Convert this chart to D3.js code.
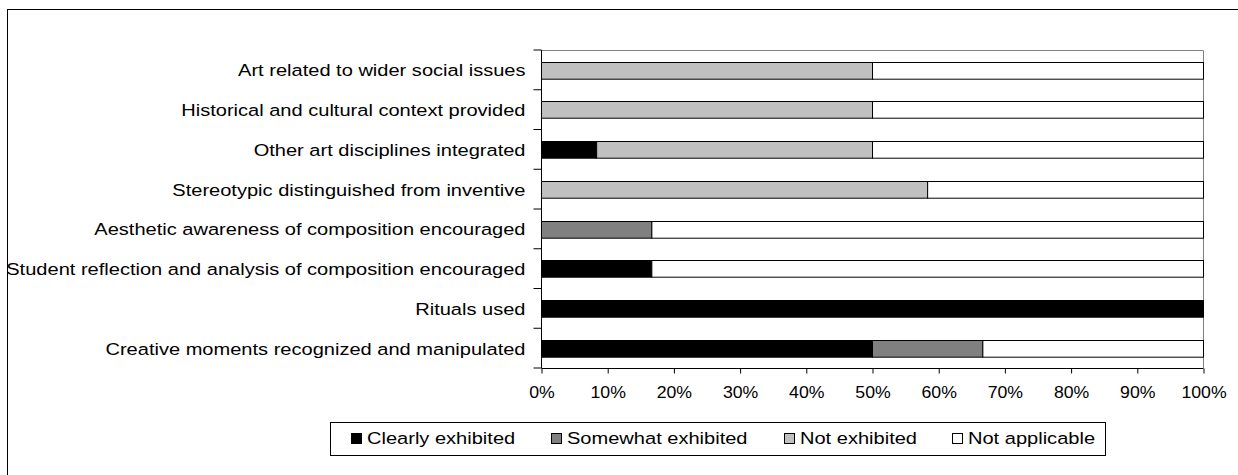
<!DOCTYPE html>
<html><head><meta charset="utf-8">
<script src="https://cdn.jsdelivr.net/npm/d3@7"></script>
<style>
body{margin:0;background:#fff;}
svg text{font-family:"Liberation Sans",Arial,sans-serif;fill:#000;}
</style></head>
<body><svg id="c" width="1238" height="475"></svg>
<script>
const categories = [
  "Art related to wider social issues",
  "Historical and cultural context provided",
  "Other art disciplines integrated",
  "Stereotypic distinguished from inventive",
  "Aesthetic awareness of composition encouraged",
  "Student reflection and analysis of composition encouraged",
  "Rituals used",
  "Creative moments recognized and manipulated"
];
const seriesNames = ["Clearly exhibited","Somewhat exhibited","Not exhibited","Not applicable"];
const clearly   = [0, 0, 8.33, 0, 0, 16.67, 100, 50];
const somewhat  = [0, 0, 0, 0, 16.67, 0, 0, 16.67];
const notExh    = [50, 50, 41.67, 58.33, 0, 0, 0, 0];
const notAppl   = [50, 50, 50, 41.67, 83.33, 83.33, 0, 33.33];
const tickValues = [0,10,20,30,40,50,60,70,80,90,100];
const colors = ["#000000","#808080","#c0c0c0","#ffffff"];

const SX = 1.18; // horizontal stretch of the reference lettering

const svg = d3.select("#c");
svg.append("rect").attr("x",7.5).attr("y",9.5).attr("width",1240).attr("height",480)
  .attr("fill","none").attr("stroke","#000").attr("stroke-width",1);

const L=541.5, R=1203.5, T=50, B=368;
const x = d3.scaleLinear().domain([0,100]).range([L,R]);
const y = d3.scaleBand().domain(categories).range([T,B]).paddingInner(0.58).paddingOuter(0.29);
const yb = d3.scaleBand().domain(categories).range([T,B]);

svg.append("path").attr("d",`M${L},${T+0.5}H${R}V${B}`).attr("fill","none").attr("stroke","#808080");

const series = [clearly, somewhat, notExh, notAppl];
const data = categories.map((c,i)=>{const o={cat:c}; seriesNames.forEach((s,k)=>o[s]=series[k][i]); return o;});
const stacked = d3.stack().keys(seriesNames)(data);

svg.append("g").selectAll("g").data(stacked).join("g")
  .attr("fill",(d,i)=>colors[i])
  .selectAll("rect").data(d=>d.filter(v=>v[1]-v[0]>0)).join("rect")
  .attr("x",d=>x(d[0])).attr("width",d=>x(d[1])-x(d[0]))
  .attr("y",d=>Math.round(y(d.data.cat))+0.5).attr("height",y.bandwidth())
  .attr("stroke","#000").attr("stroke-width",1);

// y axis
const ya = svg.append("g").attr("transform",`translate(${L},0)`);
ya.append("line").attr("x1",0).attr("x2",0).attr("y1",T).attr("y2",B).attr("stroke","#000");
ya.selectAll("line.t").data(d3.range(9)).join("line").attr("class","t")
  .attr("x1",-8).attr("x2",0).attr("y1",i=>T+i*yb.step()).attr("y2",i=>T+i*yb.step()).attr("stroke","#000");
ya.selectAll("text").data(categories).join("text")
  .attr("transform",d=>`translate(-16,${yb(d)+yb.bandwidth()/2+2}) scale(${SX},1)`)
  .attr("text-anchor","end").attr("dominant-baseline","middle").attr("font-size",17).text(d=>d);

// x axis
const xa = svg.append("g").attr("transform",`translate(0,${B+0.5})`)
  .call(d3.axisBottom(x).tickValues(tickValues).tickFormat(d=>d+"%").tickSize(5).tickPadding(12));
xa.select(".domain").attr("d",`M${L},0H${R}`).attr("stroke","#000");
xa.selectAll(".tick text").attr("font-size",17).attr("font-family","Liberation Sans, Arial, sans-serif")
  .attr("fill","#000").attr("transform","scale(1.04,1)");

// legend
const lg = svg.append("g");
lg.append("rect").attr("x",330.5).attr("y",422.5).attr("width",775).attr("height",33)
  .attr("fill","#fff").attr("stroke","#000");
const lx = [351, 551, 784, 952];
const items = lg.selectAll("g").data(seriesNames).join("g").attr("transform",(d,i)=>`translate(${lx[i]},0)`);
items.append("rect").attr("x",0.5).attr("y",433.5).attr("width",10).attr("height",10)
  .attr("fill",(d,i)=>colors[i]).attr("stroke","#000");
items.append("text").attr("transform",`translate(16,439.5) scale(${SX},1)`)
  .attr("dominant-baseline","middle").attr("font-size",17).text(d=>d);
</script></body></html>
